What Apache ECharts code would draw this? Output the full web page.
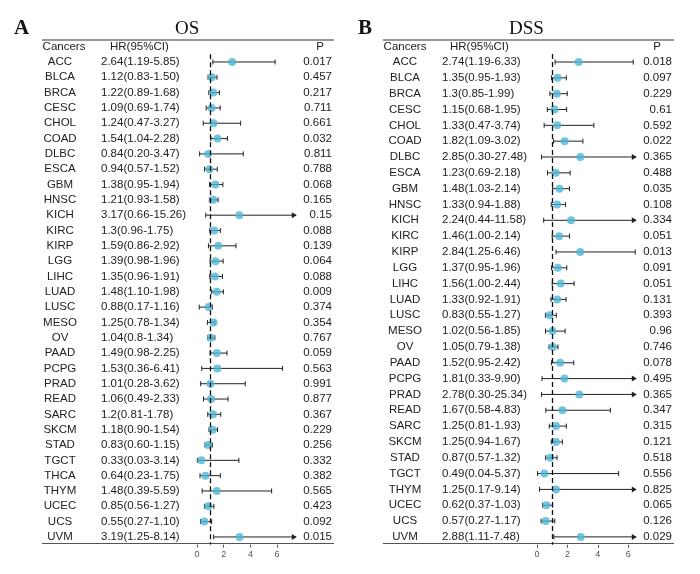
<!DOCTYPE html>
<html><head><meta charset="utf-8">
<script src="https://cdn.jsdelivr.net/npm/echarts@6/dist/echarts.min.js"></script>
<style>html,body{margin:0;padding:0;background:#fff}#c{width:700px;height:574px}</style>
</head><body><div id="c"></div>
<script>
const osCancers=['ACC','BLCA','BRCA','CESC','CHOL','COAD','DLBC','ESCA','GBM','HNSC','KICH','KIRC','KIRP','LGG','LIHC','LUAD','LUSC','MESO','OV','PAAD','PCPG','PRAD','READ','SARC','SKCM','STAD','TGCT','THCA','THYM','UCEC','UCS','UVM'];
const osHR=['2.64','1.12','1.22','1.09','1.24','1.54','0.84','0.94','1.38','1.21','3.17','1.3','1.59','1.39','1.35','1.48','0.88','1.25','1.04','1.49','1.53','1.01','1.06','1.2','1.18','0.83','0.33','0.64','1.48','0.85','0.55','3.19'];
const osLo=['1.19','0.83','0.89','0.69','0.47','1.04','0.20','0.57','0.95','0.93','0.66','0.96','0.86','0.98','0.96','1.10','0.17','0.78','0.8','0.98','0.36','0.28','0.49','0.81','0.90','0.60','0.03','0.23','0.39','0.56','0.27','1.25'];
const osHi=['5.85','1.50','1.68','1.74','3.27','2.28','3.47','1.52','1.94','1.58','15.26','1.75','2.92','1.96','1.91','1.98','1.16','1.34','1.34','2.25','6.41','3.62','2.33','1.78','1.54','1.15','3.14','1.75','5.59','1.27','1.10','8.14'];
const osP=['0.017','0.457','0.217','0.711','0.661','0.032','0.811','0.788','0.068','0.165','0.15','0.088','0.139','0.064','0.088','0.009','0.374','0.354','0.767','0.059','0.563','0.991','0.877','0.367','0.229','0.256','0.332','0.382','0.565','0.423','0.092','0.015'];
const dssCancers=['ACC','BLCA','BRCA','CESC','CHOL','COAD','DLBC','ESCA','GBM','HNSC','KICH','KIRC','KIRP','LGG','LIHC','LUAD','LUSC','MESO','OV','PAAD','PCPG','PRAD','READ','SARC','SKCM','STAD','TGCT','THYM','UCEC','UCS','UVM'];
const dssHR=['2.74','1.35','1.3','1.15','1.33','1.82','2.85','1.23','1.48','1.33','2.24','1.46','2.84','1.37','1.56','1.33','0.83','1.02','1.05','1.52','1.81','2.78','1.67','1.25','1.25','0.87','0.49','1.25','0.62','0.57','2.88'];
const dssLo=['1.19','0.95','0.85','0.68','0.47','1.09','0.30','0.69','1.03','0.94','0.44','1.00','1.25','0.95','1.00','0.92','0.55','0.56','0.79','0.95','0.33','0.30','0.58','0.81','0.94','0.57','0.04','0.17','0.37','0.27','1.11'];
const dssHi=['6.33','1.93','1.99','1.95','3.74','3.02','27.48','2.18','2.14','1.88','11.58','2.14','6.46','1.96','2.44','1.91','1.27','1.85','1.38','2.42','9.90','25.34','4.83','1.93','1.67','1.32','5.37','9.14','1.03','1.17','7.48'];
const dssP=['0.018','0.097','0.229','0.61','0.592','0.022','0.365','0.488','0.035','0.108','0.334','0.051','0.013','0.091','0.051','0.131','0.393','0.96','0.746','0.078','0.495','0.365','0.347','0.315','0.121','0.518','0.556','0.825','0.065','0.126','0.029'];
const ticks=[0,2,4,6];

const chart=echarts.init(document.getElementById('c'));
const FONT='Liberation Sans, Arial, sans-serif';
const panels=[
 {cats:osCancers,hr:osHR,lo:osLo,hi:osHi,p:osP,min:-1,max:7.4,left:183.6,width:112.2,top:54.3,height:490.3,nameX:60,hrX:101,pX:332,lx0:42,lx1:334},
 {cats:dssCancers,hr:dssHR,lo:dssLo,hi:dssHi,p:dssP,min:-0.5,max:6.5,left:529.4,width:106.4,top:54.1,height:490.7,nameX:405,hrX:442,pX:672,lx0:383,lx1:674}
];
const grid=[],xAxis=[],yAxis=[],series=[];
panels.forEach((P,k)=>{
 grid.push({left:P.left,top:P.top,width:P.width,height:P.height});
 xAxis.push({type:'value',gridIndex:k,min:P.min,max:P.max,splitLine:{show:false},axisLine:{show:false},
  axisTick:{show:true,customValues:ticks,length:3,lineStyle:{color:'#555'}},
  axisLabel:{customValues:ticks,fontSize:9,color:'#555',margin:5,fontFamily:FONT}});
 yAxis.push({type:'category',gridIndex:k,data:P.cats,inverse:true,show:false});
 const ci=P.cats.map((c,i)=>{const h=+P.hi[i];return [+P.lo[i],Math.min(h,P.max),i,h>P.max?1:0];});
 series.push({type:'custom',xAxisIndex:k,yAxisIndex:k,data:ci,clip:false,z:2,
  renderItem:(params,api)=>{
   const a=api.coord([api.value(0),api.value(2)]),b=api.coord([api.value(1),api.value(2)]);
   const st={stroke:'#222',lineWidth:1};
   const ch=[{type:'line',shape:{x1:a[0],y1:a[1],x2:b[0],y2:b[1]},style:st},
    {type:'line',shape:{x1:a[0],y1:a[1]-2.5,x2:a[0],y2:a[1]+2.5},style:st}];
   if(api.value(3)) ch.push({type:'polygon',shape:{points:[[b[0]+1,b[1]],[b[0]-4,b[1]-3],[b[0]-4,b[1]+3]]},style:{fill:'#222'}});
   else ch.push({type:'line',shape:{x1:b[0],y1:b[1]-2.5,x2:b[0],y2:b[1]+2.5},style:st});
   return {type:'group',children:ch};
  }});
 series.push({type:'scatter',xAxisIndex:k,yAxisIndex:k,z:3,symbolSize:8,itemStyle:{color:'#4FB6D4'},
  data:P.cats.map((c,i)=>[+P.hr[i],i]),
  markLine:{silent:true,symbol:'none',label:{show:false},lineStyle:{color:'#111',type:[5,3],width:1.3},data:[{xAxis:1}]}});
 series.push({type:'custom',xAxisIndex:k,yAxisIndex:k,clip:false,data:P.cats.map((c,i)=>[0,i]),
  renderItem:(params,api)=>{
   const i=api.value(1);const y=api.coord([0,i])[1];
   const s={fontSize:11.5,fontFamily:FONT,fill:'#222',verticalAlign:'middle'};
   return {type:'group',children:[
    {type:'text',x:P.nameX,y:y,style:Object.assign({text:P.cats[i],align:'center'},s)},
    {type:'text',x:P.hrX,y:y,style:Object.assign({text:P.hr[i]+'('+P.lo[i]+'-'+P.hi[i]+')',align:'left'},s)},
    {type:'text',x:P.pX,y:y,style:Object.assign({text:P.p[i],align:'right'},s)}]};
  }});
});
const hs={fontSize:11.5,fontFamily:FONT,fill:'#222'};
const graphic=[
 {type:'text',left:14,top:18,style:{text:'A',font:'bold 21px "Liberation Serif", serif',fill:'#111'}},
 {type:'text',left:175,top:20,style:{text:'OS',font:'19px "Liberation Serif", serif',fill:'#111'}},
 {type:'text',left:358,top:18,style:{text:'B',font:'bold 21px "Liberation Serif", serif',fill:'#111'}},
 {type:'text',left:509,top:20,style:{text:'DSS',font:'19px "Liberation Serif", serif',fill:'#111'}},
 {type:'line',shape:{x1:42,y1:40,x2:334,y2:40},style:{stroke:'#333',lineWidth:1}},
 {type:'line',shape:{x1:42,y1:543.5,x2:334,y2:543.5},style:{stroke:'#555',lineWidth:1.2}},
 {type:'line',shape:{x1:383,y1:40,x2:674,y2:40},style:{stroke:'#333',lineWidth:1}},
 {type:'line',shape:{x1:383,y1:543.5,x2:674,y2:543.5},style:{stroke:'#555',lineWidth:1.2}},
 {type:'text',x:64,y:47,style:Object.assign({text:'Cancers',align:'center',verticalAlign:'middle'},hs)},
 {type:'text',x:110,y:47,style:Object.assign({text:'HR(95%CI)',align:'left',verticalAlign:'middle'},hs)},
 {type:'text',x:320,y:47,style:Object.assign({text:'P',align:'center',verticalAlign:'middle'},hs)},
 {type:'text',x:405,y:47,style:Object.assign({text:'Cancers',align:'center',verticalAlign:'middle'},hs)},
 {type:'text',x:450,y:47,style:Object.assign({text:'HR(95%CI)',align:'left',verticalAlign:'middle'},hs)},
 {type:'text',x:657,y:47,style:Object.assign({text:'P',align:'center',verticalAlign:'middle'},hs)}
];
chart.setOption({animation:false,grid,xAxis,yAxis,series,graphic});
</script></body></html>
